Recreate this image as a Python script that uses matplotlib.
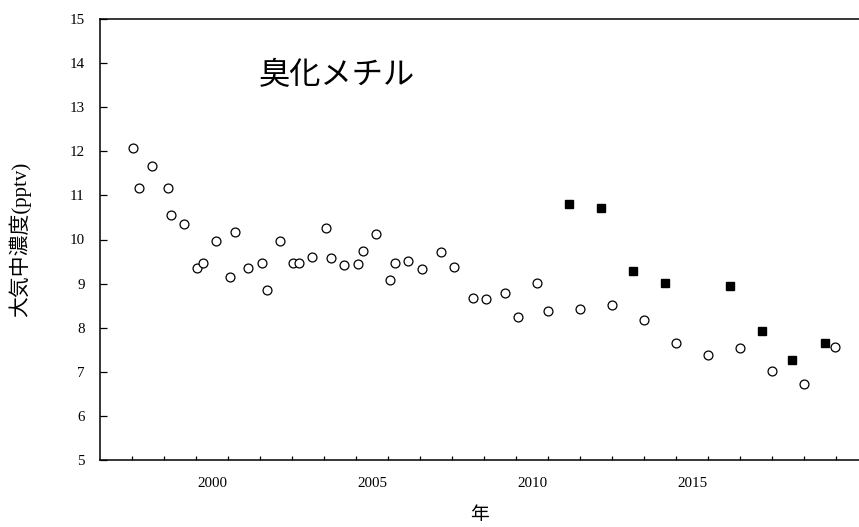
import matplotlib
matplotlib.use("Agg")
import matplotlib.pyplot as plt
from matplotlib.ticker import FixedLocator, NullFormatter, FixedFormatter
from matplotlib.transforms import Affine2D

# Methyl bromide background concentration (pptv), decimal year of each sample
circle_years = [
    1998.04, 1998.22, 1998.63, 1999.13, 1999.22, 1999.63,
    2000.04, 2000.23, 2000.63, 2001.06, 2001.22, 2001.63,
    2002.05, 2002.23, 2002.63, 2003.04, 2003.23, 2003.63,
    2004.06, 2004.23, 2004.64, 2005.05, 2005.23, 2005.63,
    2006.05, 2006.23, 2006.63, 2007.06, 2007.65, 2008.06,
    2008.65, 2009.06, 2009.65, 2010.06, 2010.65, 2011.00,
    2012.00, 2013.00, 2014.01, 2015.01, 2016.01, 2016.99,
    2018.00, 2018.99, 2019.98,
]
circle_values = [
    12.08, 11.17, 11.67, 11.17, 10.56, 10.36,
    9.36, 9.46, 9.96, 9.16, 10.16, 9.36,
    9.46, 8.85, 9.96, 9.46, 9.46, 9.60,
    10.26, 9.59, 9.42, 9.44, 9.73, 10.12,
    9.09, 9.47, 9.51, 9.34, 9.72, 9.37,
    8.67, 8.65, 8.79, 8.25, 9.01, 8.38,
    8.42, 8.51, 8.17, 7.65, 7.38, 7.53,
    7.02, 6.72, 7.56,
]

square_years = [2011.67, 2012.67, 2013.67, 2014.67, 2016.70, 2017.69, 2018.63, 2019.67]
square_values = [10.80, 10.71, 9.28, 9.01, 8.94, 7.92, 7.26, 7.65]

year_ticks = list(range(1998, 2021))
label_years = [2000, 2005, 2010, 2015]
y_ticks = list(range(5, 16))

serif = ["Liberation Serif", "Noto Sans CJK JP"]
cjk = ["Noto Sans CJK JP", "DejaVu Sans"]

fig = plt.figure(figsize=(8.59, 5.27), dpi=100)
ax = fig.add_axes([100 / 859, 67 / 527, 759 / 859, 441 / 527])

ax.plot(circle_years, circle_values, linestyle="none", marker="o",
        markersize=6.4, markerfacecolor="white", markeredgecolor="black",
        markeredgewidth=0.9)
ax.plot(square_years, square_values, linestyle="none", marker="s",
        markersize=5.2, markerfacecolor="black", markeredgecolor="black")

ax.set_xlim(1997, 1997 + 759 / 32)
ax.set_ylim(5, 15)

for side in ("left", "top", "bottom"):
    ax.spines[side].set_linewidth(1.1)
    ax.spines[side].set_color("black")
ax.spines["right"].set_visible(False)

# year ticks on the boundaries, labels centred inside each year
ax.xaxis.set_major_locator(FixedLocator(year_ticks))
ax.xaxis.set_major_formatter(NullFormatter())
ax.xaxis.set_minor_locator(FixedLocator([y + 0.5 for y in label_years]))
ax.xaxis.set_minor_formatter(FixedFormatter([str(y) for y in label_years]))
ax.tick_params(axis="x", which="major", direction="in", length=3, width=0.9,
               top=False)
ax.tick_params(axis="x", which="minor", length=0, pad=12)

ax.set_yticks(y_ticks)
ax.tick_params(axis="y", which="major", direction="in", length=5, width=0.9,
               pad=11, right=False)

for lbl in ax.get_xticklabels(minor=True) + ax.get_yticklabels():
    lbl.set_fontfamily(serif)
    lbl.set_fontsize(10.8)

ax.set_xlabel("年", family=cjk, fontsize=13.5, labelpad=10)
ax.set_ylabel("大気中濃度(pptv)", family=serif, fontsize=15, labelpad=28)

# title placed in pixel space measured from the top-left corner
ax.text(259, 75, "臭化メチル", family=cjk, fontsize=22.5,
        ha="left", va="center",
        transform=Affine2D().scale(1, -1).translate(0, 527))

fig.savefig("out.png", dpi=100)
